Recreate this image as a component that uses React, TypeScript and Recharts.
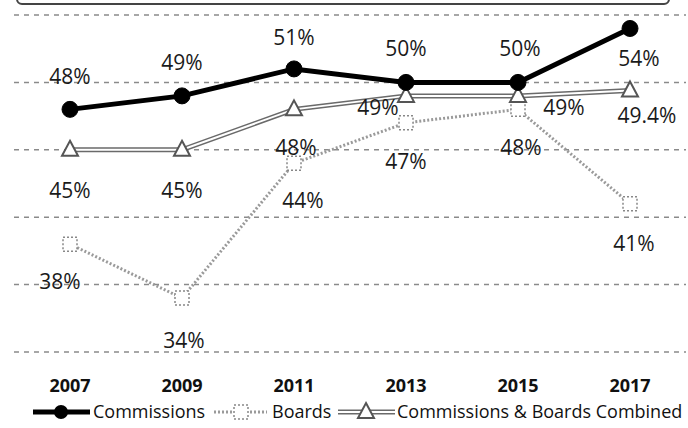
import React from "react";
import { LineChart, Line, XAxis, YAxis, CartesianGrid, LabelList } from "recharts";

const years = ["2007", "2009", "2011", "2013", "2015", "2017"];
const commissions = [48, 49, 51, 50, 50, 54];
const boards = [38, 34, 44, 47, 48, 41];
const combined = [45, 45, 48, 49, 49, 49.4];
const commissionsLabels = ["48%", "49%", "51%", "50%", "50%", "54%"];
const boardsLabels = ["38%", "34%", "44%", "47%", "48%", "41%"];
const combinedLabels = ["45%", "45%", "48%", "49%", "49%", "49.4%"];
const yTicks = [30, 35, 40, 45, 50, 55];

const data = years.map((y, i) => ({
  year: y,
  commissions: commissions[i],
  boards: boards[i],
  combined: combined[i],
}));

const FONT = "'Open Sans', sans-serif";

// label offsets (dx, dy) relative to each point
const comOff = [[0, -33], [0, -34], [0, -32], [0, -34], [2, -34], [9, 30]];
const brdOff = [[-10, 37], [2, 42], [9, 37], [0, 38], [3, 38], [4, 39]];
const cmbOff = [[0, 40], [0, 40], [2, 38], [-28, 11], [46, 11], [17, 25]];

const makeLabel = (texts: string[], off: number[][]) => (props: any) => {
  const { x, y, index } = props;
  const [dx, dy] = off[index] || [0, 0];
  return (
    <text
      x={x + dx}
      y={y + dy}
      textAnchor="middle"
      dominantBaseline="central"
      fontFamily={FONT}
      fontSize={21}
      fill="#1a1a1a"
    >
      {texts[index]}
    </text>
  );
};

const Tri = (props: any) => {
  const { cx, cy } = props;
  if (cx == null || cy == null) return null;
  return (
    <path
      d={`M${cx},${cy - 9} L${cx + 8},${cy + 6} L${cx - 8},${cy + 6} Z`}
      fill="#fff"
      stroke="#555"
      strokeWidth={2}
    />
  );
};

const Sq = (props: any) => {
  const { cx, cy } = props;
  if (cx == null || cy == null) return null;
  return (
    <rect
      x={cx - 7}
      y={cy - 7}
      width={14}
      height={14}
      fill="#fff"
      stroke="#888"
      strokeWidth={1.5}
      strokeDasharray="2 2"
    />
  );
};

const Tick = (props: any) => {
  const { x, y, payload } = props;
  return (
    <text
      x={x}
      y={y + 40}
      textAnchor="middle"
      fontFamily={FONT}
      fontWeight={700}
      fontSize={18}
      fill="#111"
    >
      {payload.value}
    </text>
  );
};

export default function App() {
  return (
    <div style={{ position: "absolute", left: 0, top: 0, width: 688, height: 428, background: "#fff", overflow: "hidden" }}>
      <div
        style={{
          position: "absolute",
          left: 16,
          top: -8,
          width: 650,
          height: 9,
          border: "2px solid #444",
          borderRadius: 6,
        }}
      />
      <LineChart
        width={688}
        height={428}
        data={data}
        margin={{ top: 15, right: 2, bottom: 0, left: 14 }}
      >
        <CartesianGrid
          vertical={false}
          stroke="#8a8a8a"
          strokeDasharray="5 5"
          strokeWidth={1.5}
        />
        <XAxis
          dataKey="year"
          axisLine={false}
          tickLine={false}
          tickSize={0}
          tickMargin={0}
          height={76}
          tick={<Tick />}
          interval={0}
          padding={{ left: 56, right: 56 }}
        />
        <YAxis hide domain={[30, 55]} ticks={yTicks} />
        <Line
          dataKey="boards"
          stroke="#9a9a9a"
          strokeWidth={3}
          strokeDasharray="2 2"
          dot={<Sq />}
          isAnimationActive={false}
        >
          <LabelList dataKey="boards" content={makeLabel(boardsLabels, brdOff)} />
        </Line>
        <Line
          dataKey="combined"
          stroke="#6a6a6a"
          strokeWidth={5}
          dot={false}
          isAnimationActive={false}
        />
        <Line
          dataKey="combined"
          stroke="#ffffff"
          strokeWidth={2}
          dot={<Tri />}
          isAnimationActive={false}
        >
          <LabelList dataKey="combined" content={makeLabel(combinedLabels, cmbOff)} />
        </Line>
        <Line
          dataKey="commissions"
          stroke="#000"
          strokeWidth={5}
          dot={{ r: 8, fill: "#000", stroke: "#000", strokeWidth: 1 }}
          isAnimationActive={false}
        >
          <LabelList dataKey="commissions" content={makeLabel(commissionsLabels, comOff)} />
        </Line>
      </LineChart>
      <svg width={688} height={30} style={{ position: "absolute", left: 0, top: 398 }}>
        <g>
          <line x1={33} y1={14} x2={90} y2={14} stroke="#000" strokeWidth={5} />
          <circle cx={61} cy={14} r={7} fill="#000" />
          <text x={93} y={20} fontFamily={FONT} fontSize={18} fill="#111">Commissions</text>
        </g>
        <g>
          <line x1={214} y1={14} x2={267} y2={14} stroke="#9a9a9a" strokeWidth={3} strokeDasharray="2 2" />
          <rect x={234} y={7} width={14} height={14} fill="#fff" stroke="#888" strokeWidth={1.5} strokeDasharray="2 2" />
          <text x={272} y={20} fontFamily={FONT} fontSize={18} fill="#111">Boards</text>
        </g>
        <g>
          <line x1={338} y1={14} x2={395} y2={14} stroke="#6a6a6a" strokeWidth={5} />
          <line x1={338} y1={14} x2={395} y2={14} stroke="#fff" strokeWidth={2} />
          <path d="M366,5 L374,20 L358,20 Z" fill="#fff" stroke="#555" strokeWidth={2} />
          <text x={397} y={20} fontFamily={FONT} fontSize={18} fill="#111">Commissions &amp; Boards Combined</text>
        </g>
      </svg>
    </div>
  );
}
